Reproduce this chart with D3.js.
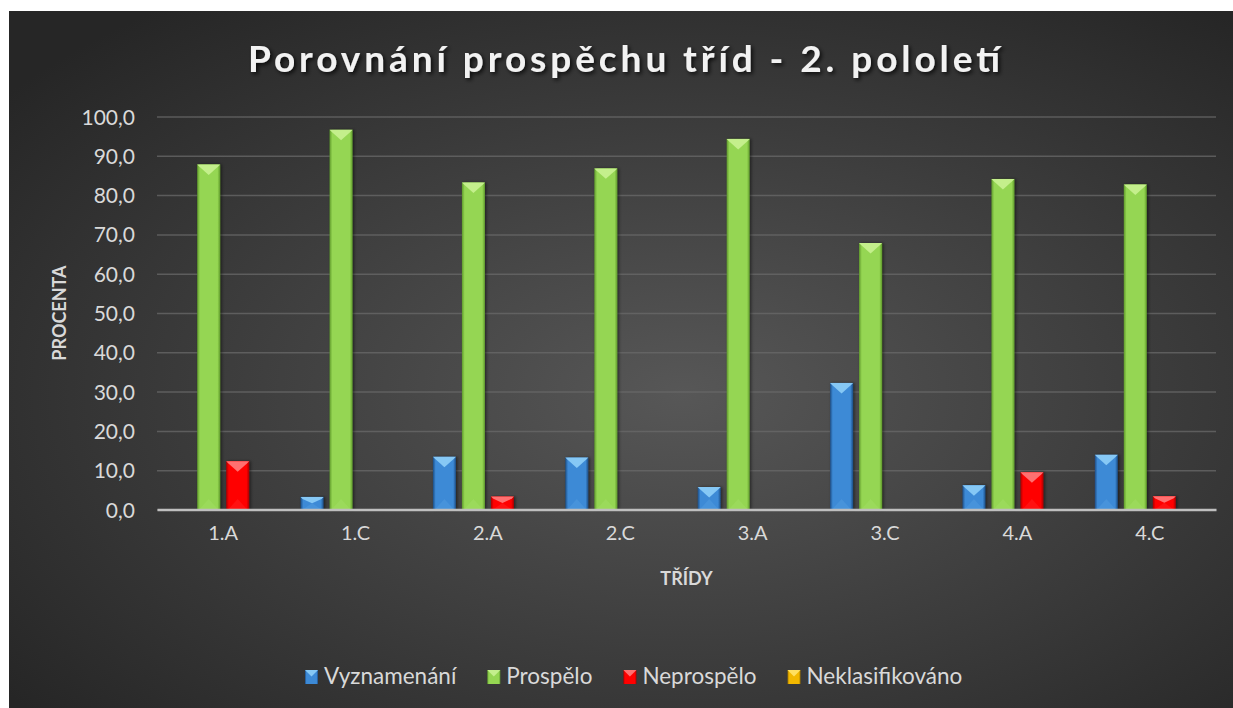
<!DOCTYPE html>
<html>
<head>
<meta charset="utf-8">
<script src="https://cdn.jsdelivr.net/npm/d3@7"></script>
<style>
  html, body { margin: 0; padding: 0; background: #ffffff; }
  svg { display: block; font-family: Lato, "Open Sans", sans-serif; }
</style>
</head>
<body>
<div id="container"></div>
<script>
// DATA
const classes = ["1.A", "1.C", "2.A", "2.C", "3.A", "3.C", "4.A", "4.C"];
const seriesNames = ["Vyznamenání", "Prospělo", "Neprospělo", "Neklasifikováno"];
const vyznamenani = [0, 3.2, 13.4, 13.2, 5.7, 32.2, 6.2, 13.9];
const prospelo = [87.8, 96.6, 83.2, 86.8, 94.3, 67.8, 84.1, 82.7];
const neprospelo = [12.3, 0, 3.3, 0, 0, 0, 9.5, 3.4];
const neklasifikovano = [0, 0, 0, 0, 0, 0, 0, 0];
const yTicks = [0, 10, 20, 30, 40, 50, 60, 70, 80, 90, 100];
const titleText = "Porovnání prospěchu tříd - 2. pololetí";

const seriesValues = [vyznamenani, prospelo, neprospelo, neklasifikovano];

// colours per series: body, light (top bevel), dark (edges)
const palette = [
  { body: "#3d8ad6", light: "#86c8f5", dark: "#1d4e86" },
  { body: "#95d652", light: "#c4ef8c", dark: "#5f9a2c" },
  { body: "#ff0000", light: "#ff7070", dark: "#a80000" },
  { body: "#f2b800", light: "#ffe060", dark: "#9a7000" }
];

// SIZES
const W = 1233, H = 708;
const plot = { left: 157, right: 1216, top: 116.5, bottom: 509.5 };

const svg = d3.select("#container").append("svg")
    .attr("width", W)
    .attr("height", H);

const defs = svg.append("defs");

// background gradient
const bg = defs.append("radialGradient")
    .attr("id", "bgGrad")
    .attr("cx", "55%").attr("cy", "55%").attr("r", "70%");
bg.append("stop").attr("offset", "0%").attr("stop-color", "#575757");
bg.append("stop").attr("offset", "100%").attr("stop-color", "#262626");

// bar body gradients (horizontal, darker edges)
palette.forEach(function(p, i) {
  const g = defs.append("linearGradient")
      .attr("id", "barGrad" + i)
      .attr("x1", "0%").attr("x2", "100%").attr("y1", "0%").attr("y2", "0%");
  g.append("stop").attr("offset", "0%").attr("stop-color", p.dark);
  g.append("stop").attr("offset", "12%").attr("stop-color", p.body);
  g.append("stop").attr("offset", "88%").attr("stop-color", p.body);
  g.append("stop").attr("offset", "100%").attr("stop-color", p.dark);
});

const shadow = defs.append("filter").attr("id", "txtShadow")
    .attr("x", "-10%").attr("y", "-30%").attr("width", "120%").attr("height", "160%");
shadow.append("feDropShadow")
    .attr("dx", 2).attr("dy", 2).attr("stdDeviation", 2)
    .attr("flood-color", "#000").attr("flood-opacity", 0.8);

const barShadow = defs.append("filter").attr("id", "barShadow")
    .attr("x", "-30%").attr("y", "-10%").attr("width", "160%").attr("height", "120%");
barShadow.append("feDropShadow")
    .attr("dx", 1.5).attr("dy", 0).attr("stdDeviation", 1.5)
    .attr("flood-color", "#000").attr("flood-opacity", 0.5);

// chart area background
svg.append("rect")
    .attr("x", 9).attr("y", 11)
    .attr("width", W - 9).attr("height", H - 11)
    .attr("fill", "url(#bgGrad)");

// SCALES
const x0 = d3.scaleBand().domain(classes).range([plot.left, plot.right]).paddingInner(0).paddingOuter(0);
const x1 = d3.scaleBand().domain(seriesNames).range([0, x0.bandwidth()])
    .paddingInner(0.207).paddingOuter(0.386);
const y = d3.scaleLinear().domain([0, 100]).range([plot.bottom, plot.top]);

// GRIDLINES
const grid = svg.append("g")
    .attr("transform", "translate(" + plot.left + ",0)")
    .call(d3.axisLeft(y).tickValues(yTicks).tickSize(-(plot.right - plot.left)).tickFormat(""));
grid.select(".domain").remove();
grid.selectAll(".tick line")
    .attr("stroke", "#6a6a6a")
    .attr("stroke-opacity", 0.75)
    .attr("stroke-width", 1.5);

// Y AXIS LABELS
const fmt = d3.format(".1f");
const yAxis = svg.append("g")
    .attr("transform", "translate(" + (plot.left - 22) + ",0)")
    .call(d3.axisLeft(y).tickValues(yTicks).tickSize(0).tickPadding(0)
      .tickFormat(function(d) { return fmt(d).replace(".", ","); }));
yAxis.select(".domain").remove();
yAxis.selectAll(".tick text")
    .attr("fill", "#d9d9d9")
    .attr("font-size", 21)
    .attr("font-family", "Lato, sans-serif")
    .attr("dy", "0.36em");

// BARS
const barsG = svg.append("g");
seriesValues.forEach(function(vals, si) {
  const p = palette[si];
  const sg = barsG.append("g").attr("class", "series");
  classes.forEach(function(c, ci) {
    const v = vals[ci];
    if (v <= 0) return;
    const bx = x0(c) + x1(seriesNames[si]);
    const bw = x1.bandwidth();
    const by = y(v);
    const bh = y(0) - y(v);
    const bev = Math.min(bw / 2 - 1, bh / 2);
    const g = sg.append("g");
    g.append("rect")
        .attr("x", bx).attr("y", by)
        .attr("width", bw).attr("height", bh)
        .attr("fill", "url(#barGrad" + si + ")")
        .attr("filter", "url(#barShadow)");
    // top bevel
    g.append("path")
        .attr("d", "M" + bx + "," + by + "L" + (bx + bw) + "," + by +
              "L" + (bx + bw - 2) + "," + (by + 2) +
              "L" + (bx + bw / 2) + "," + (by + bev) +
              "L" + (bx + 2) + "," + (by + 2) + "Z")
        .attr("fill", p.light);
    // bottom bevel
    g.append("path")
        .attr("d", "M" + (bx + 2) + "," + (by + bh) + "L" + (bx + bw - 2) + "," + (by + bh) +
              "L" + (bx + bw / 2) + "," + (by + bh - bev) + "Z")
        .attr("fill", p.light)
        .attr("opacity", 0.15);
  });
});

// X AXIS
const xAxis = svg.append("g")
    .attr("transform", "translate(0," + plot.bottom + ")")
    .call(d3.axisBottom(x0).tickSize(0).tickPadding(16));
xAxis.select(".domain")
    .attr("stroke", "#bfbfbf")
    .attr("stroke-width", 2.5);
xAxis.selectAll(".tick text")
    .attr("fill", "#d9d9d9")
    .attr("font-size", 20)
    .attr("font-family", "Lato, sans-serif");

// TITLES
svg.append("text")
    .attr("x", 624)
    .attr("y", 72)
    .attr("text-anchor", "middle")
    .attr("font-size", 37)
    .attr("font-weight", "bold")
    .attr("fill", "#f2f2f2")
    .attr("textLength", 752)
    .attr("lengthAdjust", "spacing")
    .attr("filter", "url(#txtShadow)")
    .text(titleText);

svg.append("text")
    .attr("x", (plot.left + plot.right) / 2)
    .attr("y", 585)
    .attr("text-anchor", "middle")
    .attr("font-size", 18)
    .attr("font-weight", "bold")
    .attr("fill", "#d9d9d9")
    .text("TŘÍDY");

svg.append("text")
    .attr("transform", "translate(66," + ((plot.top + plot.bottom) / 2) + ") rotate(-90)")
    .attr("text-anchor", "middle")
    .attr("font-size", 18)
    .attr("font-weight", "bold")
    .attr("fill", "#d9d9d9")
    .text("PROCENTA");

// LEGEND
const legend = svg.append("g").attr("transform", "translate(305,0)");
let lx = 0;
seriesNames.forEach(function(name, i) {
  const p = palette[i];
  const item = legend.append("g").attr("transform", "translate(" + lx + ",0)");
  item.append("rect")
      .attr("x", 0).attr("y", 670)
      .attr("width", 13).attr("height", 14)
      .attr("fill", "url(#barGrad" + i + ")");
  item.append("path")
      .attr("d", "M0,670L13,670L6.5,676.5Z")
      .attr("fill", p.light);
  const t = item.append("text")
      .attr("x", 19).attr("y", 684)
      .attr("font-size", 22.5)
      .attr("fill", "#d9d9d9")
      .text(name);
  lx += 19 + t.node().getComputedTextLength() + 31;
});
</script>
</body>
</html>
